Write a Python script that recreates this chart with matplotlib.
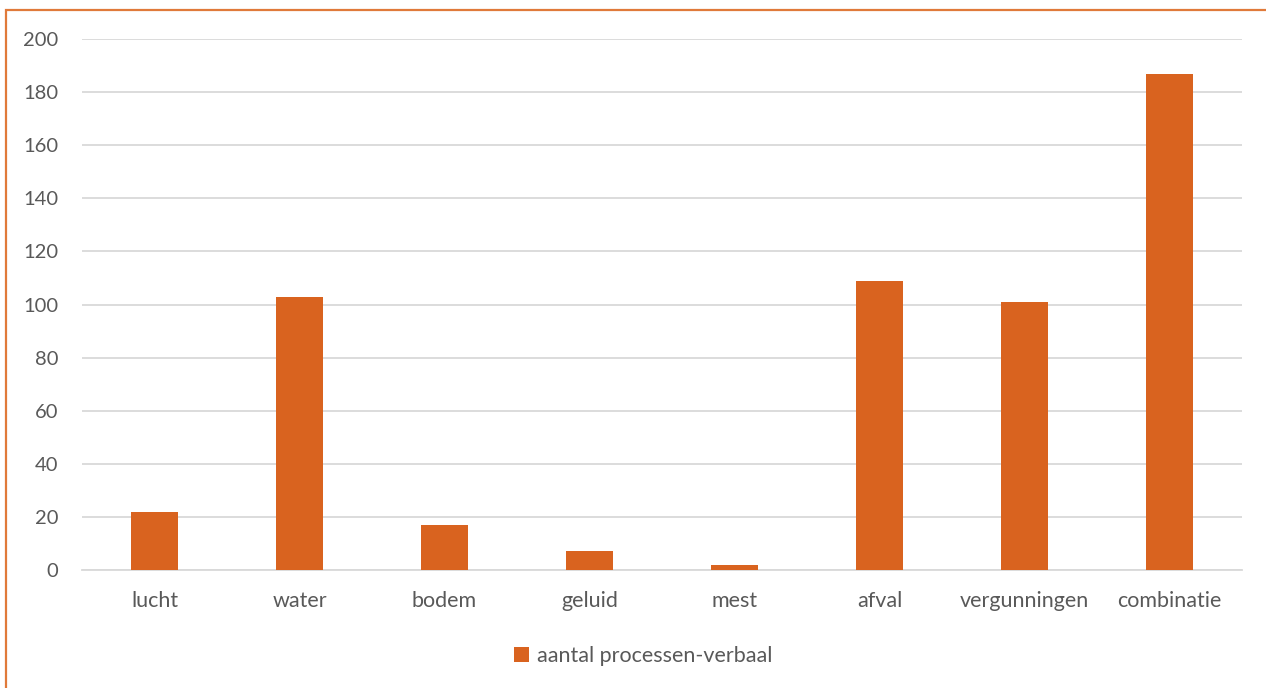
import numpy as np
import matplotlib.pyplot as plt
from matplotlib.patches import Rectangle

categorieen = ['lucht', 'water', 'bodem', 'geluid', 'mest', 'afval', 'vergunningen', 'combinatie']
aantallen = [22, 103, 17, 7, 2, 109, 101, 187]
reeks_naam = 'aantal processen-verbaal'

plt.rcParams['font.family'] = ['Lato', 'DejaVu Sans']

oranje = '#D9631F'
grijs_tekst = '#595959'
grijs_lijn = '#D9D9D9'

fig = plt.figure(figsize=(12.66, 6.88), dpi=100)
ax = fig.add_axes([82 / 1266, 1 - 570 / 688, (1242 - 82) / 1266, (570 - 39) / 688])

x = np.arange(len(categorieen))
ax.bar(x, aantallen, width=0.32, color=oranje, label=reeks_naam, zorder=3)

ax.set_xlim(-0.5, len(categorieen) - 0.5)
ax.set_ylim(0, 200)
ax.set_yticks(np.arange(0, 201, 20))
ax.set_xticks(x)
ax.set_xticklabels(categorieen)
ax.tick_params(axis='both', length=0, colors=grijs_tekst)
ax.tick_params(axis='y', pad=17, labelsize=14.5)
ax.tick_params(axis='x', pad=15, labelsize=15.5)
ax.grid(axis='y', color=grijs_lijn, linewidth=1.3, zorder=0)
for kant in ['top', 'right', 'left']:
    ax.spines[kant].set_visible(False)
ax.spines['bottom'].set_color(grijs_lijn)
ax.spines['bottom'].set_linewidth(1.3)

leg = fig.legend(loc='center', bbox_to_anchor=(643 / 1266, 1 - 656 / 688), frameon=False,
                 fontsize=15.5, handlelength=0.7, handleheight=0.7, handletextpad=0.35)
for t in leg.get_texts():
    t.set_color(grijs_tekst)

# oranje kader rond de grafiek
fig.patches.append(Rectangle((6 / 1266, -0.1), 1.2, 1 - 10 / 688 + 0.1, transform=fig.transFigure,
                             fill=False, edgecolor='#E07A3A', linewidth=1.6))

fig.savefig('out.png', dpi=100)
